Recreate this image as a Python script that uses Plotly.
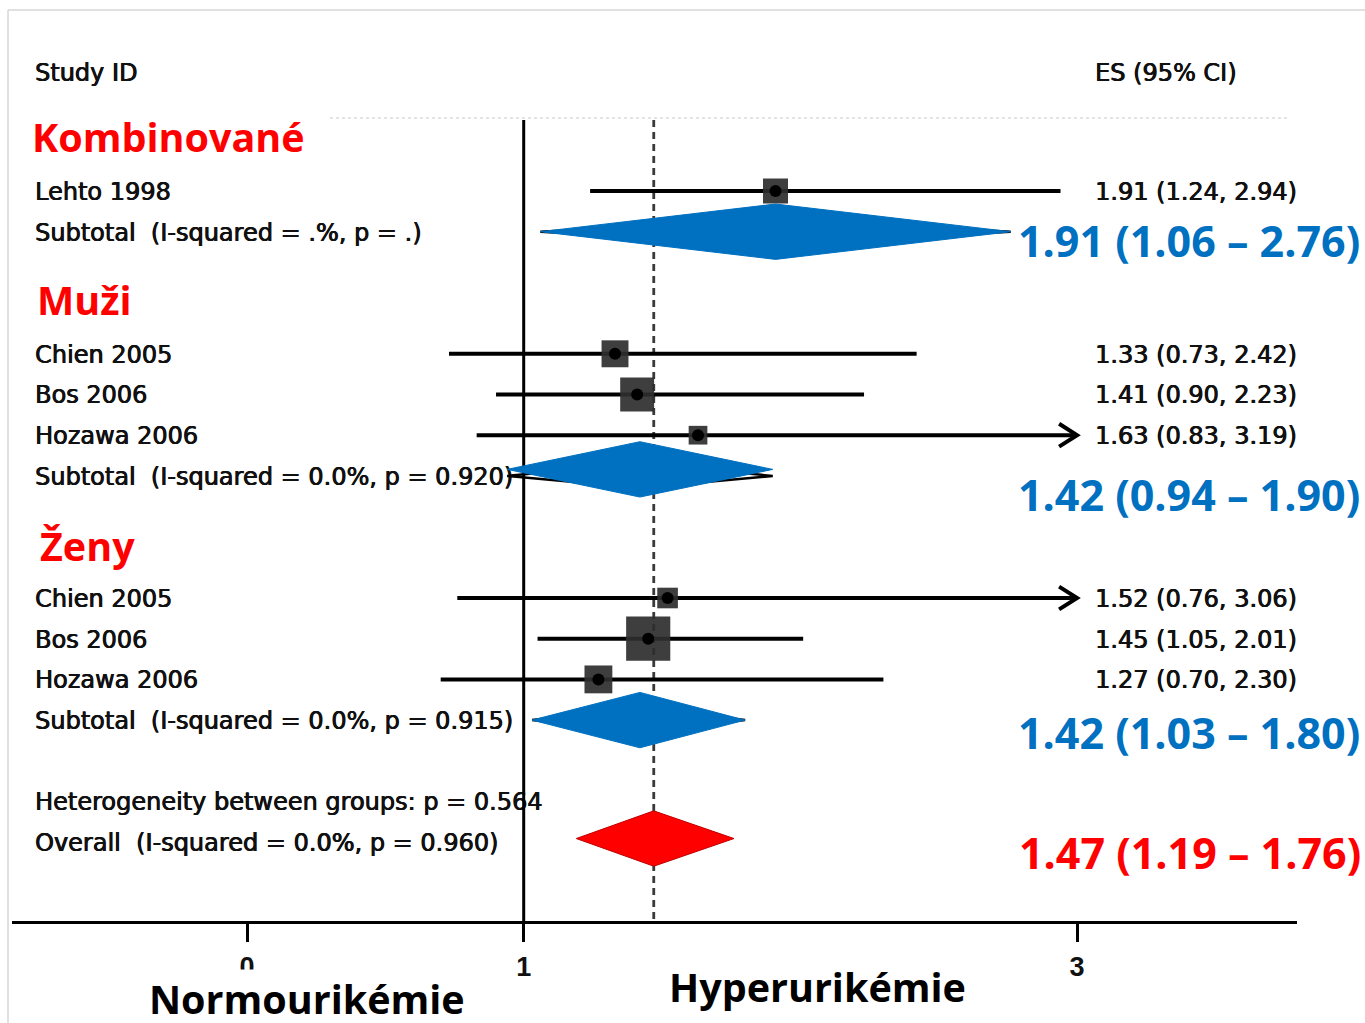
import math
import plotly.graph_objects as go

W, H = 1365, 1023

# ---------------- data ----------------
study_names = ["Lehto 1998", "Chien 2005", "Bos 2006", "Hozawa 2006",
               "Chien 2005", "Bos 2006", "Hozawa 2006"]
study_rows = [0, 4, 5, 6, 10, 11, 12]
es = [1.91, 1.33, 1.41, 1.63, 1.52, 1.45, 1.27]
ci_low = [1.24, 0.73, 0.90, 0.83, 0.76, 1.05, 0.70]
ci_high = [2.94, 2.42, 2.23, 3.19, 3.06, 2.01, 2.30]
box_weight = [25, 29, 46, 14, 17, 78, 31]

group_names = ["Kombinované", "Muži", "Ženy"]
subtotal_labels = ["Subtotal  (I-squared = .%, p = .)",
                   "Subtotal  (I-squared = 0.0%, p = 0.920)",
                   "Subtotal  (I-squared = 0.0%, p = 0.915)"]
subtotal_rows = [1, 7, 13]
subtotal_es = [1.91, 1.42, 1.42]
subtotal_low = [1.06, 0.94, 1.03]
subtotal_high = [2.76, 1.90, 1.80]

het_label = "Heterogeneity between groups: p = 0.564"
overall_label = "Overall  (I-squared = 0.0%, p = 0.960)"
overall_row = 16
het_row = 15
overall_es, overall_low, overall_high = 1.47, 1.19, 1.76

x_ticks = [0, 1, 3]
x_clip = 3.0
null_value = 1.0

# ---------------- layout helpers ----------------
X0_PX, X_UNIT = 247.0, 276.7      # pixel of value 0, pixels per unit
ROW0_PX, ROW_H = 191.0, 40.7      # pixel of row 0, pixels per row
TEXT_DY = 0.07                    # small downward nudge of Stata text rows


def xd(px):
    return (px - X0_PX) / X_UNIT


def yr(py):
    return (py - ROW0_PX) / ROW_H


def py_paper(py):
    return 1 - py / H


BLUE = "#0070C0"
RED = "#FF0000"
STATA_FONT = dict(family="DejaVu Sans", size=24, color="#111111",
                  shadow="0.5px 0 0 #111, -0.3px 0 0 #111")
BIG_FONT = "Open Sans"

fig = go.Figure()

# ---------- Stata text column (left labels) ----------
left_texts = ["Study ID"] + study_names + subtotal_labels + [het_label, overall_label]
left_rows = [yr(72)] + study_rows + subtotal_rows + [het_row, overall_row]
fig.add_trace(go.Scatter(
    x=[xd(35)] * len(left_texts), y=[r + TEXT_DY for r in left_rows], text=left_texts,
    mode="text", textposition="middle right", textfont=STATA_FONT,
    hoverinfo="skip", showlegend=False, cliponaxis=False))

# ES column
es_texts = ["ES (95% CI)"] + [f"{e:.2f} ({l:.2f}, {h:.2f})" for e, l, h in zip(es, ci_low, ci_high)]
es_rows = [yr(72)] + study_rows
fig.add_trace(go.Scatter(
    x=[xd(1095)] * len(es_texts), y=[r + TEXT_DY for r in es_rows], text=es_texts,
    mode="text", textposition="middle right", textfont=STATA_FONT,
    hoverinfo="skip", showlegend=False, cliponaxis=False))

# ---------- reference lines ----------
top_row, bottom_row = yr(120), yr(922)
fig.add_trace(go.Scatter(x=[xd(330), xd(1290)], y=[yr(118), yr(118)], mode="lines",
                         line=dict(color="#e4e4e4", width=2, dash="dot"),
                         hoverinfo="skip", showlegend=False))
fig.add_trace(go.Scatter(x=[null_value, null_value], y=[top_row, bottom_row], mode="lines",
                         line=dict(color="black", width=3), hoverinfo="skip", showlegend=False))
fig.add_trace(go.Scatter(x=[overall_es, overall_es], y=[top_row, bottom_row], mode="lines",
                         line=dict(color="#3a3a3a", width=2.8, dash="7px,5px"),
                         hoverinfo="skip", showlegend=False))

# ---------- study CI lines ----------
cx, cy = [], []
ax, ay = [], []
adx, ady = 0.065, 0.28
for r, lo, hi in zip(study_rows, ci_low, ci_high):
    cx += [lo, min(hi, x_clip), None]
    cy += [r, r, None]
    if hi > x_clip:
        ax += [x_clip - adx, x_clip, x_clip - adx, None]
        ay += [r - ady, r, r + ady, None]
fig.add_trace(go.Scatter(x=cx, y=cy, mode="lines", line=dict(color="black", width=4),
                         hoverinfo="skip", showlegend=False))
fig.add_trace(go.Scatter(x=ax, y=ay, mode="lines", line=dict(color="black", width=4),
                         hoverinfo="skip", showlegend=False))

# boxes
fig.add_trace(go.Scatter(
    x=es, y=study_rows, mode="markers",
    marker=dict(symbol="square", size=[5 * math.sqrt(w) for w in box_weight],
                color="#2e2e2e", opacity=0.92, line=dict(width=0)),
    hoverinfo="skip", showlegend=False))
fig.add_trace(go.Scatter(
    x=es, y=study_rows, mode="markers",
    marker=dict(symbol="circle", size=12, color="black"),
    hoverinfo="skip", showlegend=False))

# ---------- diamonds ----------
def diamond(center, lo, hi, row, half, fill, edge, width=1):
    fig.add_trace(go.Scatter(
        x=[lo, center, hi, center, lo], y=[row, row - half, row, row + half, row],
        mode="lines", fill="toself", fillcolor=fill,
        line=dict(color=edge, width=width), hoverinfo="skip", showlegend=False))


# original Stata outlines underneath
for r, e, lo, hi in zip(subtotal_rows, subtotal_es, subtotal_low, subtotal_high):
    diamond(e, lo, hi, r, 0.3, "rgba(0,0,0,0)", "black", 2.5)

blue_offsets = [0.0, -0.16, 0.0]
for r, off, e, lo, hi in zip(subtotal_rows, blue_offsets, subtotal_es, subtotal_low, subtotal_high):
    diamond(e, lo, hi, r + off, 0.68, BLUE, BLUE, 1)

diamond(overall_es, overall_low, overall_high, overall_row - 0.09, 0.68, RED, "#c00000", 1)

# ---------- annotations ----------
annotations = []
group_label_px = [(30, 137), (35, 300), (38, 546)]
for name, (gx, gy) in zip(group_names, group_label_px):
    annotations.append(dict(x=gx / W, y=py_paper(gy), xref="paper", yref="paper",
                            text=name, showarrow=False, xanchor="left", yanchor="middle",
                            font=dict(family=BIG_FONT, size=39.5, color=RED, weight="bold")))

summary_py = [240, 494, 732]
for e, lo, hi, spy, i in zip(subtotal_es, subtotal_low, subtotal_high, summary_py, range(3)):
    annotations.append(dict(x=1361 / W, y=py_paper(spy), xref="paper", yref="paper",
                            text=f"{e:.2f} ({lo:.2f} – {hi:.2f})", showarrow=False,
                            xanchor="right", yanchor="middle",
                            bgcolor="white" if i == 0 else None, borderpad=0,
                            font=dict(family=BIG_FONT, size=43, color=BLUE, weight="bold")))
annotations.append(dict(x=1363 / W, y=py_paper(852), xref="paper", yref="paper",
                        text=f"{overall_es:.2f} ({overall_low:.2f} – {overall_high:.2f})",
                        showarrow=False, xanchor="right", yanchor="middle",
                        font=dict(family=BIG_FONT, size=43, color=RED, weight="bold")))

annotations.append(dict(x=307 / W, y=py_paper(999), xref="paper", yref="paper",
                        text="Normourikémie", showarrow=False, xanchor="center", yanchor="middle",
                        bgcolor="white", borderpad=2,
                        font=dict(family=BIG_FONT, size=39.5, color="black", weight="bold")))
annotations.append(dict(x=817 / W, y=py_paper(987), xref="paper", yref="paper",
                        text="Hyperurikémie", showarrow=False, xanchor="center", yanchor="middle",
                        font=dict(family=BIG_FONT, size=39.5, color="black", weight="bold")))

# frame
shapes = [
    dict(type="line", xref="paper", yref="paper", x0=8 / W, x1=1, y0=py_paper(10), y1=py_paper(10),
         line=dict(color="#d6d6d6", width=1.5)),
    dict(type="line", xref="paper", yref="paper", x0=8 / W, x1=8 / W, y0=py_paper(10), y1=0,
         line=dict(color="#d6d6d6", width=1.5)),
]

fig.update_layout(
    width=W, height=H, margin=dict(l=0, r=0, t=0, b=0),
    paper_bgcolor="white", plot_bgcolor="white",
    annotations=annotations, shapes=shapes, showlegend=False,
    xaxis=dict(domain=[12 / W, 1297 / W], range=[xd(12), xd(1297)],
               anchor="free", position=py_paper(922), side="bottom",
               showline=True, linecolor="black", linewidth=3,
               tickmode="array", tickvals=x_ticks, ticktext=[str(t) for t in x_ticks],
               ticks="outside", ticklen=18, tickwidth=3, tickcolor="black",
               ticklabelstandoff=2,
               tickfont=dict(family="Liberation Sans", size=27, color="#111111", weight="bold"),
               showgrid=False, zeroline=False, fixedrange=True),
    yaxis=dict(domain=[0, 1], range=[yr(H), yr(0)], visible=False,
               showgrid=False, zeroline=False, fixedrange=True),
)

fig.write_html("out.html")
